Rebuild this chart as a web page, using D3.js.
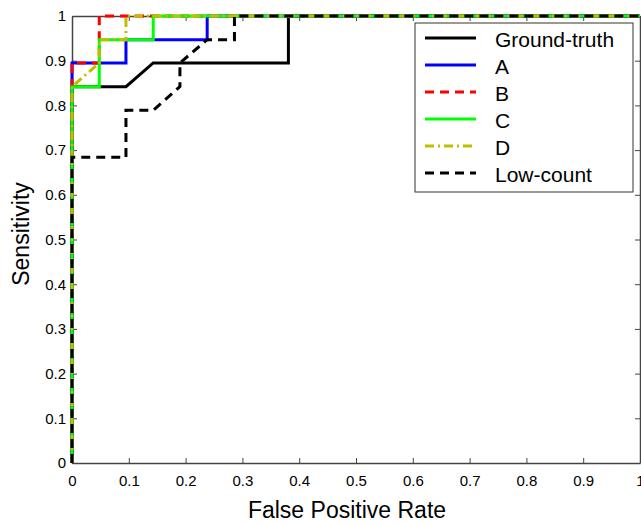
<!DOCTYPE html>
<html>
<head>
<meta charset="utf-8">
<script src="https://cdnjs.cloudflare.com/ajax/libs/d3/7.8.5/d3.min.js"></script>
<style>
body { margin: 0; background: #fff; }
svg { display: block; }
.tick text { font-family: "Liberation Sans Narrow", "Liberation Sans", Arial, sans-serif; font-size: 15px; fill: #000; }
</style>
</head>
<body>
<div id="chart"></div>
<script>
'use strict';

// ROC curves, 21 negatives / 19 positives
var seriesNames = ['Ground-truth', 'A', 'B', 'C', 'D', 'Low-count'];
var groundTruth = [[0, 0], [0, 0.842], [0.095, 0.842], [0.143, 0.895], [0.381, 0.895], [0.381, 1], [1, 1]];
var curveA = [[0, 0], [0, 0.895], [0.095, 0.895], [0.095, 0.947], [0.238, 0.947], [0.238, 1], [1, 1]];
var curveB = [[0, 0], [0, 0.895], [0.048, 0.895], [0.048, 1], [1, 1]];
var curveC = [[0, 0], [0, 0.842], [0.048, 0.842], [0.048, 0.947], [0.143, 0.947], [0.143, 1], [1, 1]];
var curveD = [[0, 0], [0, 0.842], [0.048, 0.895], [0.048, 0.947], [0.095, 0.947], [0.095, 1], [1, 1]];
var lowCount = [[0, 0], [0, 0.684], [0.095, 0.684], [0.095, 0.789], [0.143, 0.789], [0.19, 0.842], [0.19, 0.895], [0.238, 0.947], [0.286, 0.947], [0.286, 1], [1, 1]];
var xTicks = [0, 0.1, 0.2, 0.3, 0.4, 0.5, 0.6, 0.7, 0.8, 0.9, 1];
var yTicks = [0, 0.1, 0.2, 0.3, 0.4, 0.5, 0.6, 0.7, 0.8, 0.9, 1];

var styles = [
	{ color: '#000000', dash: null },
	{ color: '#0000ff', dash: null },
	{ color: '#ff0000', dash: '9,6' },
	{ color: '#00ff00', dash: null },
	{ color: '#bfbf00', dash: '9,4,2,4' },
	{ color: '#000000', dash: '9,6' }
];
var curves = [groundTruth, curveA, curveB, curveC, curveD, lowCount];

var width = 641, height = 524;
var mLeft = 72, mRight = 640, mTop = 16, mBottom = 463;

var svg = d3.select('#chart').append('svg')
	.attr('width', width)
	.attr('height', height);

var x = d3.scaleLinear().domain([0, 1]).range([mLeft, mRight]);
var y = d3.scaleLinear().domain([0, 1]).range([mBottom, mTop]);

function fmt(d) { return d === 0 || d === 1 ? String(d) : d3.format('.1f')(d); }

// axes with inward ticks on all four sides
var axisColor = '#444';
var gx = svg.append('g').attr('transform', 'translate(0,' + mBottom + ')')
	.call(d3.axisBottom(x).tickValues(xTicks).tickFormat(fmt).tickSizeInner(-5).tickSizeOuter(0).tickPadding(12));
var gy = svg.append('g').attr('transform', 'translate(' + mLeft + ',0)')
	.call(d3.axisLeft(y).tickValues(yTicks).tickFormat(fmt).tickSizeInner(-5).tickSizeOuter(0).tickPadding(6));
var gt = svg.append('g').attr('transform', 'translate(0,' + mTop + ')')
	.call(d3.axisTop(x).tickValues(xTicks).tickFormat('').tickSizeInner(-5).tickSizeOuter(0));
var gr = svg.append('g').attr('transform', 'translate(' + mRight + ',0)')
	.call(d3.axisRight(y).tickValues(yTicks).tickFormat('').tickSizeInner(-5).tickSizeOuter(0));
[gx, gy, gt, gr].forEach(function (g) {
	g.selectAll('path.domain').attr('stroke', axisColor).attr('stroke-width', 1.5);
	g.selectAll('.tick line').attr('stroke', axisColor);
});

var line = d3.line()
	.x(function (d) { return x(d[0]); })
	.y(function (d) { return y(d[1]); });

svg.append('g').selectAll('path')
	.data(curves)
	.enter()
	.append('path')
	.attr('d', line)
	.attr('fill', 'none')
	.attr('stroke', function (d, i) { return styles[i].color; })
	.attr('stroke-dasharray', function (d, i) { return styles[i].dash; })
	.attr('stroke-width', 3);

// legend
var lg = svg.append('g').attr('transform', 'translate(415,23)');
lg.append('rect')
	.attr('width', 218).attr('height', 169)
	.attr('fill', '#fff').attr('stroke', '#333').attr('stroke-width', 1);
var items = lg.selectAll('g.item')
	.data(seriesNames)
	.enter()
	.append('g')
	.attr('transform', function (d, i) { return 'translate(0,' + (15 + i * 27) + ')'; });
items.append('line')
	.attr('x1', 10).attr('x2', 61).attr('y1', 0).attr('y2', 0)
	.attr('stroke', function (d, i) { return styles[i].color; })
	.attr('stroke-dasharray', function (d, i) { return styles[i].dash; })
	.attr('stroke-width', 3);
items.append('text')
	.attr('x', 80).attr('y', 1).attr('dy', '0.36em')
	.attr('font-family', '"Liberation Sans", Arial, sans-serif')
	.attr('font-size', 21)
	.text(function (d) { return d; });

// axis titles
svg.append('text')
	.attr('x', 347).attr('y', 518)
	.attr('text-anchor', 'middle')
	.attr('font-family', '"Liberation Sans", Arial, sans-serif')
	.attr('font-size', 23)
	.text('False Positive Rate');
svg.append('text')
	.attr('transform', 'translate(29,234) rotate(-90)')
	.attr('text-anchor', 'middle')
	.attr('font-family', '"Liberation Sans", Arial, sans-serif')
	.attr('font-size', 23)
	.text('Sensitivity');
</script>
</body>
</html>
